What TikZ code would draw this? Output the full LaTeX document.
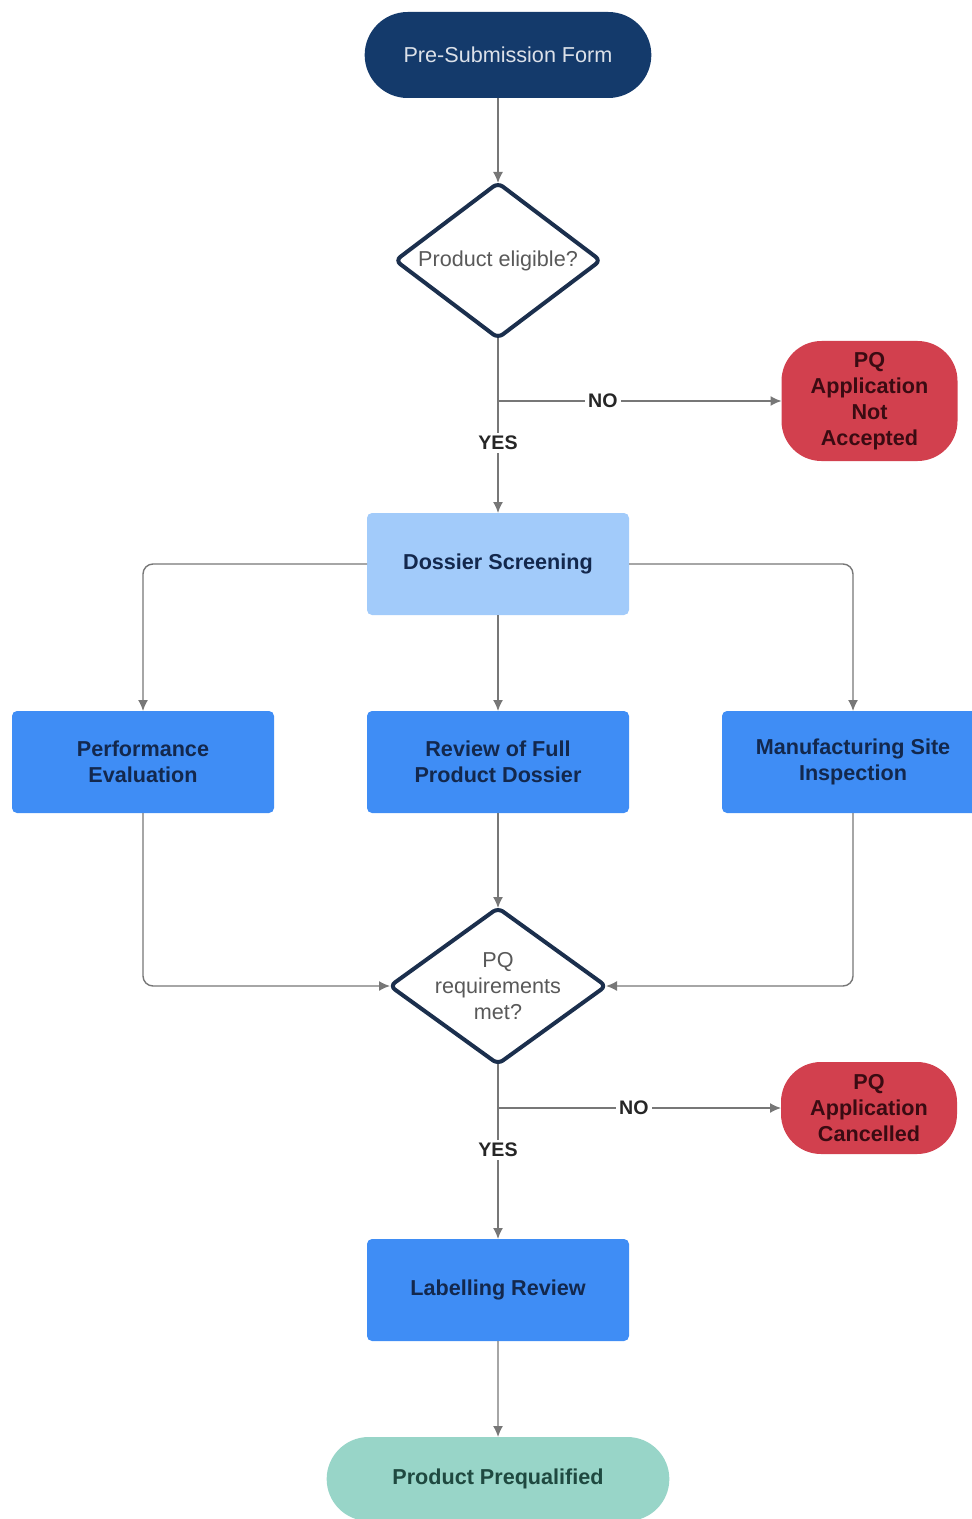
\documentclass[tikz,border=0pt]{standalone}
\usepackage{fontspec}
\setmainfont{Liberation Sans}
\usepackage{tikz}
\usetikzlibrary{arrows.meta,positioning,shapes,calc}
\definecolor{navy}{HTML}{143A6B}
\definecolor{navyline}{HTML}{1B2F4D}
\definecolor{navytext}{HTML}{13284D}
\definecolor{redfill}{HTML}{D2404E}
\definecolor{redtext}{HTML}{3A0B12}
\definecolor{lightblue}{HTML}{A2CBFA}
\definecolor{midblue}{HTML}{3F8DF5}
\definecolor{tealfill}{HTML}{98D5C8}
\definecolor{tealtext}{HTML}{1F4940}
\definecolor{linegray}{HTML}{777777}
\tikzset{
  every node/.style={font=\fontsize{10.8}{13}\selectfont, outer sep=0pt},
  term/.style={rounded rectangle, fill=navy, text=navy!15, minimum width=150pt, minimum height=43pt},
  decision/.style={diamond, draw=navyline, line width=2pt, rounded corners=3pt, fill=white, text=black!65,
    align=center, aspect=1.35, inner sep=-2pt},
  stopbox/.style={rectangle, rounded corners=20pt, fill=redfill, text=redtext, align=center,
    minimum width=88pt, font=\fontsize{10.8}{13}\selectfont\bfseries},
  task/.style={rectangle, rounded corners=2.5pt, fill=midblue, text=navytext, align=center,
    minimum width=131pt, minimum height=51pt, font=\fontsize{10.8}{13}\selectfont\bfseries},
  finish/.style={rounded rectangle, fill=tealfill, text=tealtext, minimum width=178pt, minimum height=42pt,
    font=\fontsize{10.8}{13}\selectfont\bfseries},
  tag/.style={fill=white, text=black!85, inner sep=1.5pt, font=\fontsize{9.8}{12}\selectfont\bfseries},
  arrow/.style={-{Latex[length=5.5pt, width=5pt]}, draw=linegray, line width=0.7pt},
}

\begin{document}
\begin{tikzpicture}[x=0.5pt, y=-0.5pt]
  \useasboundingbox (0,0) rectangle (971,1519);

  % Nodes
  \node[term] (start) at (508,55) {Pre-Submission Form};
  \node[decision, minimum width=102.5pt, minimum height=77.5pt, below=42.5pt of start, xshift=-5pt] (elig) {Product eligible?};
  \node[stopbox, minimum height=60pt, right=90.5pt of elig, yshift=-70.25pt] (notacc) {PQ\\Application\\Not\\Accepted};
  \node[task, fill=lightblue, below=87.5pt of elig] (screen) {Dossier Screening};
  \node[task, below=48pt of screen] (review) {Review of Full\\Product Dossier};
  \node[task, left=46.5pt of review] (perf) {Performance\\Evaluation};
  \node[task, right=46.5pt of review] (manuf) {Manufacturing Site\\Inspection};
  \node[decision, minimum width=108pt, minimum height=78pt, below=47.5pt of review] (met) {PQ\\requirements\\met?};
  \node[stopbox, minimum height=46pt, right=87.5pt of met, yshift=-61pt] (cancel) {PQ\\Application\\Cancelled};
  \node[task, below=87.5pt of met] (labelling) {Labelling Review};
  \node[finish, below=48pt of labelling] (final) {Product Prequalified};

  % Arrows
  \draw[arrow] (start.south -| elig.north) -- (elig.north);
  \draw[arrow] (elig) -- node[tag, pos=0.6] {YES} (screen);
  \draw[arrow] (elig.south |- notacc) -- node[tag, pos=0.37] {NO} (notacc);
  \draw[arrow, rounded corners=5pt] (screen.west) -| (perf.north);
  \draw[arrow] (screen) -- (review);
  \draw[arrow, rounded corners=5pt] (screen.east) -| (manuf.north);
  \draw[arrow] (review) -- (met);
  \draw[arrow, rounded corners=5pt] (perf.south) |- (met.west);
  \draw[arrow, rounded corners=5pt] (manuf.south) |- (met.east);
  \draw[arrow] (met) -- node[tag, pos=0.49] {YES} (labelling);
  \draw[arrow] (met.south |- cancel) -- node[tag, pos=0.48] {NO} (cancel);
  \draw[arrow] (labelling) -- (final);
\end{tikzpicture}
\end{document}
